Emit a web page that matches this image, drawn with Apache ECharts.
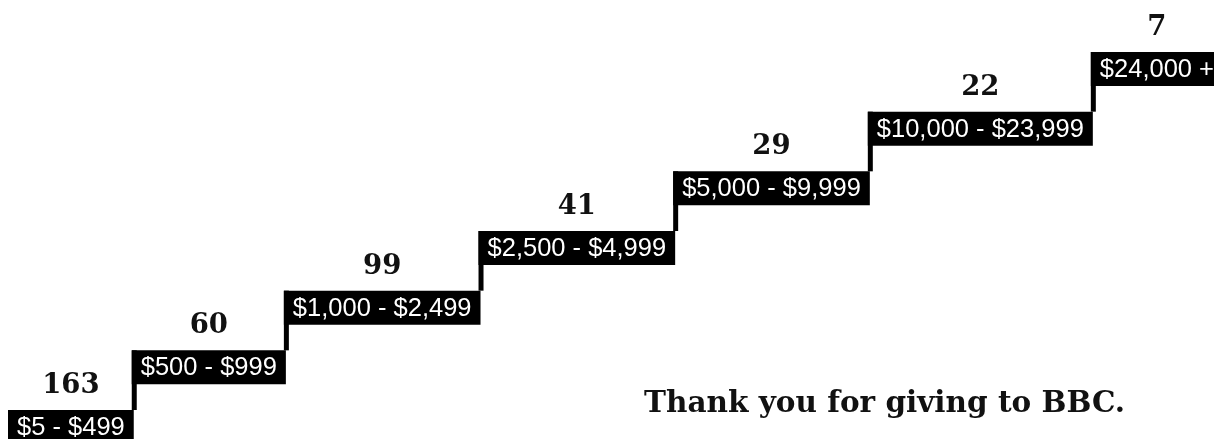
<!DOCTYPE html>
<html>
<head>
<meta charset="utf-8">
<script src="https://cdn.jsdelivr.net/npm/echarts@6/dist/echarts.min.js"></script>
<style>
html,body{margin:0;padding:0;background:#ffffff;}
#chart{width:1214px;height:439px;}
</style>
</head>
<body>
<div id="chart"></div>
<script>
// ---- data ----
const ranges = ['$5 - $499', '$500 - $999', '$1,000 - $2,499', '$2,500 - $4,999', '$5,000 - $9,999', '$10,000 - $23,999', '$24,000 +'];
const donors = [163, 60, 99, 41, 29, 22, 7];
const message = 'Thank you for giving to BBC.';

// ---- layout helpers (step widths fitted to the label text) ----
const LABEL_FONT = '25.5px "Liberation Sans", Arial, sans-serif';
const COUNT_FONT = 'bold 27.5px "DejaVu Serif", serif';
const PAD = 9, OVERLAP = 2, BOX_H = 34, RISER = 5;

const measure = document.createElement('canvas').getContext('2d');
measure.font = LABEL_FONT;
const stepStart = [], stepEnd = [];
let cursor = 0;
ranges.forEach(function (r) {
  const w = measure.measureText(r).width + 2 * PAD;
  stepStart.push(cursor);
  stepEnd.push(cursor + w);
  cursor += w - OVERLAP;
});

const seriesData = ranges.map(function (r, i) {
  return [i, stepStart[i], stepEnd[i], donors[i]];
});

const chart = echarts.init(document.getElementById('chart'), null, {renderer: 'canvas'});

chart.setOption({
  animation: false,
  backgroundColor: '#ffffff',
  title: {
    text: message,
    left: 639,
    top: 384,
    textStyle: {
      fontFamily: '"DejaVu Serif", serif',
      fontWeight: 'bold',
      fontSize: 29.5,
      color: '#111111'
    }
  },
  grid: {left: 8, right: 0, top: 52, bottom: 29},
  xAxis: {type: 'value', min: 0, max: 1206, show: false},
  yAxis: {type: 'value', min: 0, max: 6, show: false},
  series: [{
    type: 'custom',
    clip: false,
    data: seriesData,
    renderItem: function (params, api) {
      const i = api.value(0);
      const p0 = api.coord([api.value(1), i]);
      const p1 = api.coord([api.value(2), i]);
      const x0 = p0[0], x1 = p1[0], y = p0[1];
      const cx = (x0 + x1) / 2;
      const children = [{
        type: 'rect',
        shape: {x: x0, y: y, width: x1 - x0, height: BOX_H},
        style: {fill: '#000000'}
      }];
      if (i > 0) {
        const prevTop = api.coord([api.value(1), i - 1])[1];
        children.push({
          type: 'rect',
          shape: {x: x0, y: y, width: RISER, height: prevTop - y},
          style: {fill: '#000000'}
        });
      }
      children.push({
        type: 'text',
        style: {
          x: cx, y: y + BOX_H / 2 + 1,
          text: ranges[i],
          font: LABEL_FONT,
          fill: '#ffffff',
          align: 'center',
          verticalAlign: 'middle'
        }
      });
      children.push({
        type: 'text',
        style: {
          x: cx, y: y - 24,
          text: String(api.value(3)),
          font: COUNT_FONT,
          fill: '#111111',
          align: 'center',
          verticalAlign: 'middle'
        }
      });
      return {type: 'group', children: children};
    }
  }]
});
</script>
</body>
</html>
